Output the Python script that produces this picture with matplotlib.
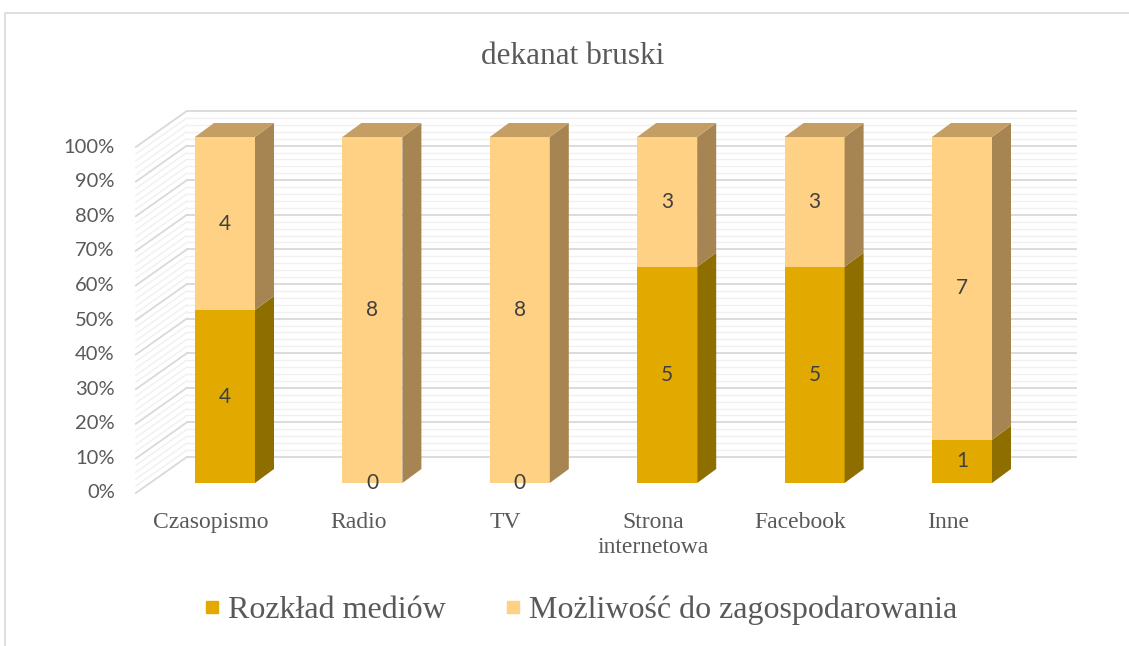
import matplotlib.pyplot as plt
from matplotlib.patches import Polygon, Rectangle
from matplotlib.lines import Line2D
import numpy as np

# dane z wykresu
kategorie = ['Czasopismo', 'Radio', 'TV', 'Strona\ninternetowa', 'Facebook', 'Inne']
rozklad = [4, 0, 0, 5, 5, 1]
mozliwosc = [4, 8, 8, 3, 3, 7]
seria = ['Rozkład mediów', 'Możliwość do zagospodarowania']
ticki = [0, 10, 20, 30, 40, 50, 60, 70, 80, 90, 100]

# kolory (przod, bok, gora)
ciemny = ('#E2AA00', '#8F6E00', '#B08400')
jasny = ('#FED185', '#A68552', '#C49E63')
szary = '#595959'

fig = plt.figure(figsize=(11.29, 6.46), dpi=100)
ax = fig.add_axes([0, 0, 1, 1])
px_x = 147.4   # px na kategorie
px_y = 3.46    # px na procent
ax.set_xlim(-225 / px_x, (1129 - 225) / px_x)
ax.set_ylim((483 - 646) / px_y, 483 / px_y)
ax.axis('off')

# ramka wykresu
fig.patches.append(Rectangle((5 / 1129, -0.1), 1.2, 1 - 13 / 646 + 0.1, transform=fig.transFigure,
                             fill=False, edgecolor='#d9d9d9', lw=1.2))

# przesuniecia 3D
bx, by = 37 / px_x, 26 / px_y       # tylna sciana
fx, fy = 14 / px_x, 10 / px_y       # przednia krawedz
dx, dy = 19 / px_x, 14 / px_y       # glebokosc slupka
x0, x1 = -0.51, 5.52
w = 60 / px_x

# siatka - linie pomocnicze
for v in np.arange(0, 100.1, 2):
    glowna = v in ticki
    c = '#d9d9d9' if glowna else '#f0f0f0'
    lw = 1.3 if glowna else 1.0
    ax.plot([x0 + bx, x1 + bx], [v + by, v + by], color=c, lw=lw, zorder=1 if not glowna else 2)
    ax.plot([x0 - fx, x0 + bx], [v - fy, v + by], color=c, lw=lw, zorder=1 if not glowna else 2)

for v in ticki:
    ax.text(x0 - fx - 21 / px_x, v - fy, f'{v}%', ha='right', va='center',
            fontsize=14.5, color=szary, family='Lato')


def segment(x, y0, y1, kol, gora):
    ax.add_patch(Polygon([(x - w / 2, y0), (x + w / 2, y0), (x + w / 2, y1), (x - w / 2, y1)],
                         closed=True, facecolor=kol[0], edgecolor='none', zorder=3))
    ax.add_patch(Polygon([(x + w / 2, y0), (x + w / 2 + dx, y0 + dy), (x + w / 2 + dx, y1 + dy),
                          (x + w / 2, y1)], closed=True, facecolor=kol[1], edgecolor='none', zorder=3))
    if gora:
        ax.add_patch(Polygon([(x - w / 2, y1), (x + w / 2, y1), (x + w / 2 + dx, y1 + dy),
                              (x - w / 2 + dx, y1 + dy)], closed=True, facecolor=kol[2],
                             edgecolor='none', zorder=3))


for i, (a, b) in enumerate(zip(rozklad, mozliwosc)):
    suma = a + b
    pa = a / suma * 100
    if a > 0:
        segment(i, 0, pa, ciemny, False)
    segment(i, pa, 100, jasny, True)
    ax.text(i, pa / 2, str(a), ha='center', va='center', fontsize=15, color='#404040',
            family='Lato', zorder=5)
    ax.text(i, (pa + 100) / 2, str(b), ha='center', va='center', fontsize=15, color='#404040',
            family='Lato', zorder=5)
    ax.text(i - 14 / px_x, -8.4, kategorie[i], ha='center', va='top', fontsize=17,
            color=szary, family='Liberation Serif', linespacing=1.25)

fig.text(573 / 1129, 1 - 56 / 646, 'dekanat bruski', ha='center', va='center',
         fontsize=22.5, color=szary, family='Liberation Serif')

uchwyty = [Line2D([], [], marker='s', ls='', markersize=9, color=ciemny[0]),
           Line2D([], [], marker='s', ls='', markersize=9, color=jasny[0])]
fig.legend(uchwyty, seria, loc='center', bbox_to_anchor=(581 / 1129, 1 - 610 / 646), ncol=2,
           frameon=False, handlelength=0.5, handletextpad=0.25, columnspacing=1.85,
           prop={'family': 'Liberation Serif', 'size': 23}, labelcolor=szary)

fig.savefig('out.png', dpi=100)
